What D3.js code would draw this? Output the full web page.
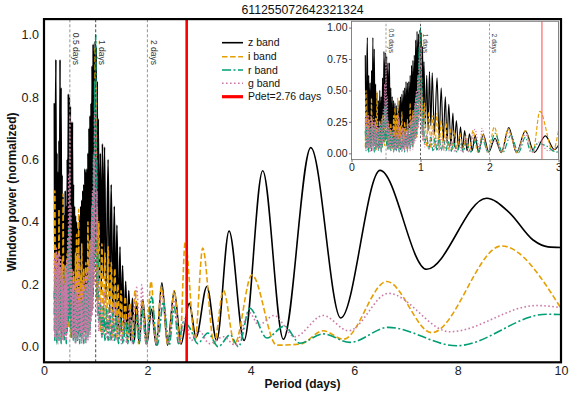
<!DOCTYPE html>
<html><head><meta charset="utf-8">
<script src="https://cdn.jsdelivr.net/npm/d3@7"></script>
<style>body{margin:0;background:#fff} text{font-family:"Liberation Sans",Arial,sans-serif}</style>
</head><body><svg id="c" width="575" height="400"></svg>
<script>
// ---------------- DATA ----------------
const chartTitle = "611255072642321324";
const bandNames = ["z band", "i band", "r band", "g band"];
const pdet = 2.76;
const pdetLabel = "Pdet=2.76 days";
const markerPeriods = [0.5, 1, 2];
const markerLabels = ["0.5 days", "1 days", "2 days"];
const mainXTicks = [0, 2, 4, 6, 8, 10];
const mainYTicks = [0, 0.2, 0.4, 0.6, 0.8, 1.0];
const insetXTicks = [0, 1, 2, 3];
const insetYTicks = [0, 0.25, 0.5, 0.75, 1.0];

// dense short-period region (days)
const densePeriods = [0.20,0.21,0.22,0.23,0.24,0.25,0.26,0.27,0.28,0.29,0.30,0.31,0.32,0.33,0.34,0.35,0.36,0.37,0.38,0.39,
0.40,0.41,0.42,0.43,0.44,0.45,0.46,0.47,0.48,0.49,0.50,0.51,0.52,0.53,0.54,0.55,0.56,0.57,0.58,0.59,
0.60,0.61,0.62,0.63,0.64,0.65,0.66,0.67,0.68,0.69,0.70,0.71,0.72,0.73,0.74,0.75,0.76,0.77,0.78,0.79,
0.80,0.81,0.82,0.83,0.84,0.85,0.86,0.87,0.88,0.89,0.90,0.91,0.92,0.93,0.94,0.95,0.96,0.97,0.98,0.99,
1.00,1.01,1.02,1.03,1.04];

const zDense = [0.78,0.12,0.60,0.92,0.08,0.62,0.15,0.56,0.05,0.66,0.20,0.92,0.10,0.83,0.18,0.55,0.06,0.48,0.12,0.42,
0.05,0.50,0.10,0.45,0.08,0.60,0.15,0.81,0.30,0.80,0.25,0.77,0.20,0.72,0.15,0.72,0.10,0.52,0.06,0.45,
0.10,0.42,0.05,0.40,0.08,0.38,0.04,0.36,0.10,0.42,0.06,0.45,0.12,0.47,0.08,0.50,0.14,0.52,0.10,0.57,
0.18,0.56,0.12,0.57,0.20,0.62,0.15,0.70,0.25,0.74,0.20,0.78,0.30,0.90,0.35,0.97,0.40,0.95,0.45,0.98,
0.50,0.96,0.40,0.85,0.30];
const iDense = [0.05,0.50,0.08,0.22,0.04,0.30,0.10,0.18,0.06,0.44,0.12,0.25,0.05,0.20,0.08,0.28,0.03,0.49,0.10,0.20,
0.05,0.26,0.08,0.18,0.04,0.30,0.10,0.22,0.06,0.35,0.12,0.20,0.03,0.25,0.08,0.18,0.04,0.24,0.10,0.16,
0.03,0.30,0.06,0.36,0.08,0.30,0.10,0.44,0.05,0.28,0.08,0.22,0.04,0.33,0.10,0.20,0.05,0.25,0.08,0.18,
0.04,0.27,0.10,0.20,0.06,0.40,0.12,0.26,0.05,0.34,0.10,0.30,0.15,0.45,0.12,0.38,0.20,0.60,0.25,0.96,
0.30,0.85,0.15,0.45,0.10];
const rDense = [0.18,0.02,0.22,0.05,0.15,0.01,0.25,0.04,0.20,0.02,0.23,0.06,0.18,0.01,0.21,0.03,0.16,0.05,0.24,0.02,
0.19,0.04,0.22,0.01,0.26,0.05,0.30,0.08,0.38,0.10,0.42,0.06,0.30,0.03,0.20,0.05,0.17,0.02,0.14,0.04,
0.18,0.01,0.12,0.03,0.16,0.02,0.13,0.04,0.11,0.01,0.14,0.03,0.10,0.02,0.15,0.04,0.12,0.01,0.18,0.05,
0.14,0.02,0.20,0.06,0.16,0.03,0.22,0.08,0.26,0.05,0.30,0.10,0.38,0.12,0.48,0.15,0.62,0.25,0.85,0.40,
1.00,0.45,0.60,0.15,0.30];
const gDense = [0.28,0.03,0.30,0.02,0.32,0.05,0.27,0.01,0.30,0.04,0.26,0.02,0.29,0.06,0.25,0.02,0.22,0.04,0.26,0.03,
0.20,0.05,0.24,0.02,0.28,0.06,0.35,0.10,0.55,0.20,0.74,0.15,0.45,0.05,0.25,0.03,0.20,0.02,0.16,0.04,
0.21,0.01,0.18,0.03,0.22,0.02,0.15,0.05,0.30,0.02,0.18,0.04,0.14,0.01,0.20,0.03,0.16,0.02,0.22,0.05,
0.18,0.01,0.24,0.04,0.20,0.02,0.26,0.06,0.30,0.03,0.34,0.08,0.40,0.10,0.50,0.12,0.60,0.20,0.75,0.30,
0.85,0.35,0.50,0.10,0.25];

// longer-period region: [period, power]
const zTail = [[1.05,0.73],[1.07,0.20],[1.09,0.62],[1.11,0.18],[1.13,0.65],[1.15,0.22],[1.17,0.64],[1.20,0.15],[1.24,0.60],[1.27,0.12],
[1.30,0.52],[1.33,0.10],[1.36,0.45],[1.385,0.08],[1.41,0.39],[1.44,0.06],[1.47,0.32],[1.49,0.05],[1.52,0.26],[1.55,0.04],
[1.58,0.21],[1.61,0.03],[1.64,0.18],[1.675,0.02],[1.71,0.155],[1.75,0.02],[1.79,0.145],[1.84,0.01],[1.91,0.15],[1.99,0.01],
[2.08,0.12],[2.17,0.005],[2.28,0.205],[2.39,0.005],[2.52,0.178],[2.65,0.008],[2.81,0.139],[2.94,0.03],[3.15,0.193],[3.34,0.02],
[3.58,0.371],[3.87,0.02],[4.23,0.564],[4.63,0.024],[5.16,0.638],[5.74,0.092],[6.50,0.565],[7.40,0.248],[8.56,0.476],[9.0,0.43],
[9.46,0.342],[9.75,0.32],[10.0,0.318]];
const iTail = [[1.06,0.40],[1.09,0.05],[1.12,0.33],[1.15,0.04],[1.18,0.30],[1.21,0.05],[1.24,0.32],[1.27,0.04],[1.30,0.27],[1.335,0.03],
[1.37,0.25],[1.40,0.03],[1.43,0.20],[1.46,0.03],[1.49,0.18],[1.53,0.02],[1.57,0.16],[1.615,0.02],[1.66,0.14],[1.71,0.02],
[1.76,0.18],[1.83,0.01],[1.90,0.15],[1.98,0.01],[2.07,0.21],[2.17,0.01],[2.27,0.19],[2.40,0.005],[2.52,0.18],[2.63,0.01],
[2.73,0.334],[2.92,0.02],[3.07,0.316],[3.29,0.01],[3.47,0.18],[3.69,0.01],[4.02,0.23],[4.50,0.005],[4.95,0.008],[5.40,0.051],
[5.79,0.024],[6.63,0.209],[7.50,0.045],[8.85,0.323],[10.0,0.123]];
const rTail = [[1.06,0.08],[1.09,0.14],[1.12,0.03],[1.15,0.13],[1.18,0.02],[1.21,0.12],[1.24,0.02],[1.27,0.13],[1.30,0.02],[1.335,0.11],
[1.37,0.02],[1.40,0.10],[1.44,0.01],[1.48,0.09],[1.53,0.01],[1.58,0.08],[1.62,0.01],[1.66,0.086],[1.73,0.01],[1.80,0.10],
[1.85,0.01],[1.89,0.12],[1.98,0.01],[2.08,0.16],[2.19,0.005],[2.31,0.144],[2.42,0.005],[2.52,0.128],[2.60,0.01],[2.70,0.08],
[2.82,0.06],[2.97,0.01],[3.17,0.044],[3.37,0.0],[3.60,0.038],[3.76,0.0],[3.98,0.123],[4.31,0.028],[4.65,0.066],[4.95,0.011],
[5.40,0.041],[5.92,0.014],[6.66,0.062],[7.98,0.003],[9.72,0.104],[10.0,0.103]];
const gTail = [[1.06,0.05],[1.09,0.15],[1.12,0.03],[1.17,0.18],[1.21,0.03],[1.24,0.12],[1.27,0.02],[1.30,0.13],[1.335,0.02],[1.37,0.14],
[1.41,0.02],[1.45,0.10],[1.50,0.01],[1.55,0.09],[1.60,0.01],[1.65,0.12],[1.70,0.01],[1.79,0.19],[1.86,0.02],[1.89,0.198],
[1.97,0.01],[2.07,0.10],[2.18,0.01],[2.28,0.17],[2.40,0.01],[2.52,0.15],[2.62,0.01],[2.72,0.09],[2.85,0.02],[3.00,0.05],
[3.20,0.01],[3.47,0.032],[3.70,0.005],[3.97,0.11],[4.15,0.07],[4.45,0.10],[4.85,0.032],[5.40,0.10],[5.89,0.051],[6.66,0.171],
[7.85,0.048],[9.53,0.132],[10.0,0.125]];

// ---------------- STYLE ----------------
const bandStyles = [
  {color:"#000000", dash:null, dashInset:null},
  {color:"#E69F00", dash:"5.5,2.6", dashInset:"4,2"},
  {color:"#009E73", dash:"9,2.5,2,2.5", dashInset:"6,2,1.5,2"},
  {color:"#CC79A7", dash:"1.6,2.4", dashInset:"1.2,1.8"}
];
const denseVals = [zDense, iDense, rDense, gDense];
const tails = [zTail, iTail, rTail, gTail];
const series = denseVals.map((vals, k) =>
  densePeriods.map((p, i) => [p, vals[i]]).concat(tails[k]));

const svg = d3.select("#c");
const FONT = '"Liberation Sans",Arial,sans-serif';

// main panel geometry
const M = {x0:44, x1:561, y0:19.1, y1:362.3};
const x = d3.scaleLinear().domain([0,10]).range([M.x0, M.x1]);
const y = d3.scaleLinear().domain([-0.05,1.05]).range([M.y1, M.y0]);
// inset geometry
const I = {x0:351.5, x1:558.5, y0:21.3, y1:159.6};
const xi = d3.scaleLinear().domain([0,3]).range([I.x0, I.x1]);
const yi = d3.scaleLinear().domain([-0.05,1.05]).range([I.y1, I.y0]);

const defs = svg.append("defs");
defs.append("clipPath").attr("id","clipMain").append("rect")
  .attr("x",M.x0).attr("y",M.y0).attr("width",M.x1-M.x0).attr("height",M.y1-M.y0);
defs.append("clipPath").attr("id","clipInset").append("rect")
  .attr("x",I.x0).attr("y",I.y0).attr("width",I.x1-I.x0).attr("height",I.y1-I.y0);

function drawCurves(g, xs, ys, lw, inset){
  const line = d3.line().x(d=>xs(d[0])).y(d=>ys(d[1])).curve(d3.curveMonotoneX);
  series.forEach((s,k)=>{
    const st = bandStyles[k];
    g.append("path").attr("d", line(s)).attr("fill","none")
      .attr("stroke", st.color).attr("stroke-width", lw)
      .attr("stroke-linejoin","round")
      .attr("stroke-dasharray", inset ? st.dashInset : st.dash);
  });
}
function drawMarkers(g, xs, ys, opt){
  markerPeriods.forEach((p,i)=>{
    g.append("line").attr("x1",xs(p)).attr("x2",xs(p))
      .attr("y1",ys.range()[0]).attr("y2",ys.range()[1])
      .attr("stroke", p===1 ? "#333" : "#888").attr("stroke-width", opt.mw)
      .attr("stroke-dasharray", opt.md);
    g.append("text").attr("transform",`translate(${xs(p)+opt.dx},${opt.ty}) rotate(90)`)
      .attr("text-anchor","end").attr("dominant-baseline","central")
      .attr("font-size", opt.fs).attr("fill","#333").text(markerLabels[i]);
  });
  g.append("line").attr("x1",xs(pdet)).attr("x2",xs(pdet))
    .attr("y1",ys.range()[0]).attr("y2",ys.range()[1])
    .attr("stroke", opt.red).attr("stroke-width", opt.rw);
}

// ---------- MAIN ----------
const main = svg.append("g");
const mc = main.append("g").attr("clip-path","url(#clipMain)");
drawCurves(mc, x, y, 1.6, false);
drawMarkers(mc, x, y, {mw:0.9, md:"3,2", dx:6.5, ty:65, fs:8.5, red:"#ff0000", rw:2.6});

// axes main
const ax = main.append("g").attr("transform",`translate(0,${M.y1})`)
  .call(d3.axisBottom(x).tickValues(mainXTicks).tickSize(0).tickPadding(4).tickFormat(d3.format("d")));
const ay = main.append("g").attr("transform",`translate(${M.x0},0)`)
  .call(d3.axisLeft(y).tickValues(mainYTicks).tickSize(0).tickPadding(5).tickFormat(d3.format(".1f")));
[ax, ay].forEach(a=>{ a.select(".domain").remove();
  a.selectAll("text").attr("font-size",12.5).attr("fill","#222").style("font-family",FONT); });

main.append("text").attr("x",(M.x0+M.x1)/2).attr("y",14).attr("text-anchor","middle")
  .attr("font-size",12.3).attr("fill","#111").text(chartTitle);
main.append("text").attr("x",(M.x0+M.x1)/2).attr("y",388).attr("text-anchor","middle")
  .attr("font-size",12).attr("font-weight","bold").attr("fill","#111").text("Period (days)");
main.append("text").attr("transform",`translate(16,${192}) rotate(-90)`).attr("text-anchor","middle")
  .attr("font-size",12).attr("font-weight","bold").attr("fill","#111").text("Window power (normalized)");

// legend
const leg = main.append("g");
const legY = [42.7, 56.7, 70, 83.3, 96.7];
bandNames.forEach((n,k)=>{
  const st = bandStyles[k];
  leg.append("line").attr("x1",222).attr("x2",243).attr("y1",legY[k]).attr("y2",legY[k])
    .attr("stroke",st.color).attr("stroke-width",1.6).attr("stroke-dasharray",st.dash);
  leg.append("text").attr("x",248).attr("y",legY[k]).attr("dy","0.35em")
    .attr("font-size",10.5).attr("fill","#111").text(n);
});
leg.append("line").attr("x1",222).attr("x2",243).attr("y1",legY[4]).attr("y2",legY[4])
  .attr("stroke","#ff0000").attr("stroke-width",3.2);
leg.append("text").attr("x",248).attr("y",legY[4]).attr("dy","0.35em")
  .attr("font-size",10.5).attr("fill","#111").text(pdetLabel);

// ---------- INSET ----------
const inset = svg.append("g");
inset.append("rect").attr("x",I.x0).attr("y",I.y0).attr("width",I.x1-I.x0).attr("height",I.y1-I.y0)
  .attr("fill","#fff");
const ic = inset.append("g").attr("clip-path","url(#clipInset)");
drawCurves(ic, xi, yi, 1.15, true);
drawMarkers(ic, xi, yi, {mw:0.8, md:"2.5,1.8", dx:5, ty:53, fs:6.5, red:"#ff5a5a", rw:1.1});
inset.append("rect").attr("x",I.x0).attr("y",I.y0).attr("width",I.x1-I.x0).attr("height",I.y1-I.y0)
  .attr("fill","none").attr("stroke","#777").attr("stroke-width",0.9);
const iax = inset.append("g").attr("transform",`translate(0,${I.y1})`)
  .call(d3.axisBottom(xi).tickValues(insetXTicks).tickSize(2.5).tickPadding(1).tickFormat(d3.format("d")));
const iay = inset.append("g").attr("transform",`translate(${I.x0},0)`)
  .call(d3.axisLeft(yi).tickValues(insetYTicks).tickSize(2.5).tickPadding(1.5).tickFormat(d3.format(".2f")));
[iax, iay].forEach(a=>{ a.select(".domain").remove();
  a.selectAll("line").attr("stroke","#555").attr("stroke-width",0.8);
  a.selectAll("text").attr("font-size",10.5).attr("fill","#222").style("font-family",FONT); });

// main frame on top
svg.append("rect").attr("x",M.x0).attr("y",M.y0).attr("width",M.x1-M.x0).attr("height",M.y1-M.y0)
  .attr("fill","none").attr("stroke","#000").attr("stroke-width",2.2);
</script></body></html>
